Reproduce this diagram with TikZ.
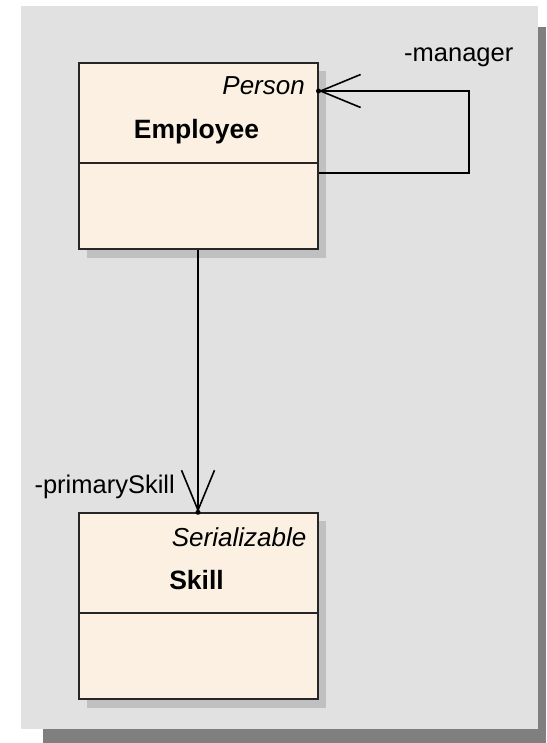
\documentclass[tikz,border=0pt]{standalone}
\usepackage{fontspec}
\setmainfont{Liberation Sans}
\usetikzlibrary{arrows.meta,calc}
\definecolor{panelbg}{HTML}{E1E1E1}
\definecolor{panelshadow}{HTML}{7F7F7F}
\definecolor{boxshadow}{HTML}{C0C0C0}
\definecolor{classfill}{HTML}{FBF0E2}
\definecolor{edge}{HTML}{262626}
\tikzset{
  classbox/.style={draw=edge, line width=2pt, fill=classfill,
    minimum width=239pt, minimum height=186pt, inner sep=0pt},
  boxshade/.style={fill=boxshadow, draw=none},
  divider/.style={draw=edge, line width=2pt},
  stereo/.style={font=\fontsize{26}{31}\selectfont\itshape, inner sep=0pt, anchor=base east},
  cname/.style={font=\fontsize{26.5}{31}\selectfont\bfseries, inner sep=0pt, anchor=base},
  role/.style={font=\fontsize{25.5}{30}\selectfont, inner sep=0pt},
  assoc/.style={draw=black, line width=1.6pt,
    -{Straight Barb[length=40pt,width=33pt,line width=1.6pt]}},
  tipdot/.style={fill=black, circle, inner sep=0pt, minimum size=5pt}
}
\begin{document}
\begin{tikzpicture}[x=1pt,y=-1pt]
  \useasboundingbox (0,0) rectangle (546,743);
  % sheet with its drop shadow
  \fill[panelshadow] (43,27) rectangle (546,743);
  \fill[panelbg] (21,6) rectangle (538,729);

  % class shadows
  \fill[boxshade] (86.5,71.3) rectangle (326,257.5);
  \fill[boxshade] (86.5,521.3) rectangle (326,707.5);

  % classes
  \node[classbox] (emp) at (198,156.3) {};
  \node[classbox] (skill) at (198,606.3) {};
  \draw[divider] ($(emp.west)+(0,7)$) -- ($(emp.east)+(0,7)$);
  \draw[divider] ($(skill.west)+(0,7)$) -- ($(skill.east)+(0,7)$);

  \node[stereo] (empst) at (305,95) {Person};
  \node[cname] (empname) at (196.5,139) {Employee};
  \node[stereo] (skillst) at (306.5,546) {Serializable};
  \node[cname] (skillname) at (196.5,589) {Skill};

  % self association: manager
  \coordinate (lb) at (469,173);
  \coordinate (lt) at (469,91);
  \draw[assoc] (emp.east |- lb) -- (lb) -- (lt) -- (emp.east |- lt);
  \node[tipdot] (mdot) at (emp.east |- lt) {};
  \node[role, anchor=base west] (mrole) at (404,62) {-manager};

  % association: primarySkill
  \draw[assoc] (emp.south) -- (skill.north);
  \node[tipdot] (sdot) at (skill.north) {};
  \node[role, anchor=base east] (srole) at (175,493) {-primarySkill};
\end{tikzpicture}
\end{document}
